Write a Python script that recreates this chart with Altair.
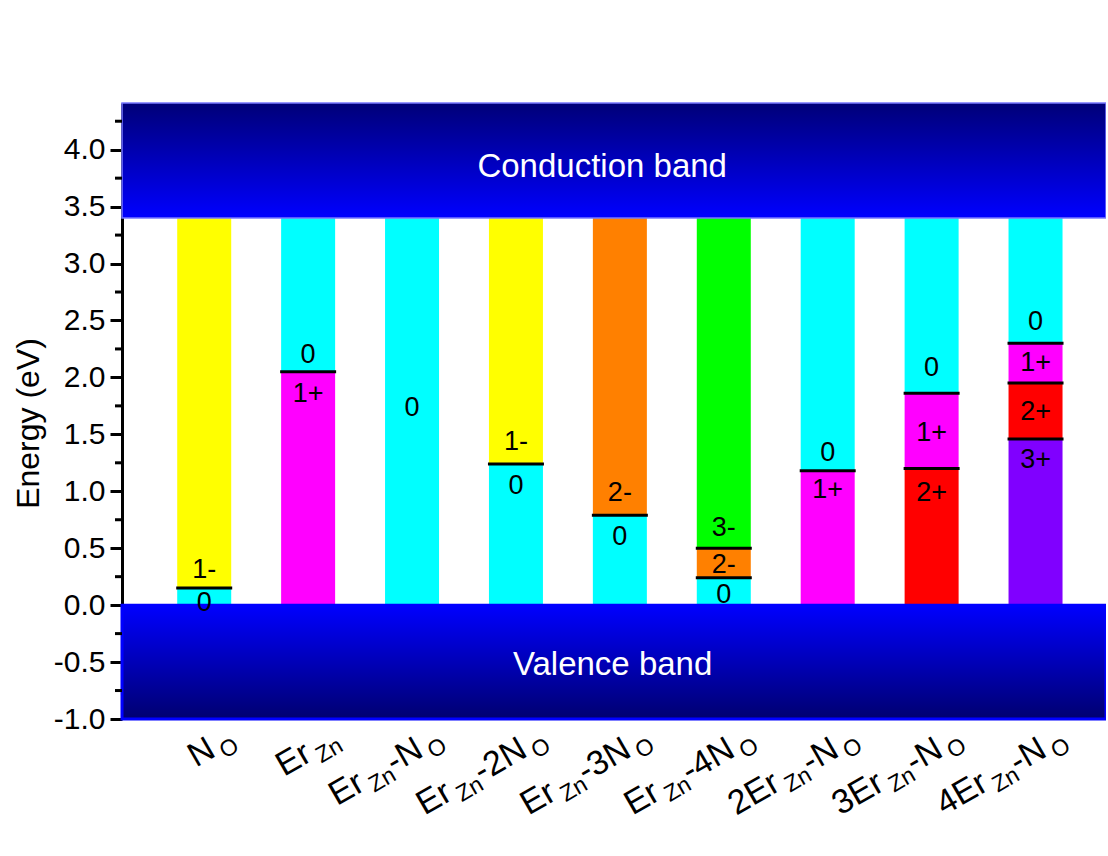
import altair as alt
import pandas as pd

FONT = "Liberation Sans"

# ---- defect configurations (x positions 1..9) ----
positions = [1, 2, 3, 4, 5, 6, 7, 8, 9]
# label pieces: (text, is_subscript)
label_parts = [
    [("N", 0), ("O", 1)],
    [("Er", 0), ("Zn", 1)],
    [("Er", 0), ("Zn", 1), ("-N", 0), ("O", 1)],
    [("Er", 0), ("Zn", 1), ("-2N", 0), ("O", 1)],
    [("Er", 0), ("Zn", 1), ("-3N", 0), ("O", 1)],
    [("Er", 0), ("Zn", 1), ("-4N", 0), ("O", 1)],
    [("2Er", 0), ("Zn", 1), ("-N", 0), ("O", 1)],
    [("3Er", 0), ("Zn", 1), ("-N", 0), ("O", 1)],
    [("4Er", 0), ("Zn", 1), ("-N", 0), ("O", 1)],
]

# ---- energy ranges ----
E_MIN, E_MAX = -1.0, 4.41
GAP = 3.4  # ZnO band gap (eV)
X_MIN, X_MAX = 0.257, 9.63

# ---- charge-state regions of each defect within the gap ----
seg_pos = [1, 1, 2, 2, 3, 4, 4, 5, 5, 6, 6, 6, 7, 7, 8, 8, 8, 9, 9, 9, 9]
seg_lo = [0.0, 0.15, 0.0, 2.05, 0.0, 0.0, 1.24, 0.0, 0.79, 0.0, 0.24, 0.50,
          0.0, 1.18, 0.0, 1.20, 1.86, 0.0, 1.46, 1.95, 2.30]
seg_hi = [0.15, GAP, 2.05, GAP, GAP, 1.24, GAP, 0.79, GAP, 0.24, 0.50, GAP,
          1.18, GAP, 1.20, 1.86, GAP, 1.46, 1.95, 2.30, GAP]
seg_color = ["#00FFFF", "#FFFF00", "#FF00FF", "#00FFFF", "#00FFFF", "#00FFFF",
             "#FFFF00", "#00FFFF", "#FF8000", "#00FFFF", "#FF8000", "#00FF00",
             "#FF00FF", "#00FFFF", "#FF0000", "#FF00FF", "#00FFFF", "#8000FF",
             "#FF0000", "#FF00FF", "#00FFFF"]

# ---- thermodynamic transition levels ----
lvl_pos = [1, 2, 4, 5, 6, 6, 7, 8, 8, 9, 9, 9]
lvl_e = [0.15, 2.05, 1.24, 0.79, 0.24, 0.50, 1.18, 1.20, 1.86, 1.46, 1.95, 2.30]

# ---- charge-state labels ----
chg_pos = [1, 1, 2, 2, 3, 4, 4, 5, 5, 6, 6, 6, 7, 7, 8, 8, 8, 9, 9, 9, 9]
chg_e = [0.31, 0.02, 2.20, 1.855, 1.73, 1.43, 1.046, 0.985, 0.60, 0.677, 0.352,
         0.088, 1.34, 1.01, 2.08, 1.51, 0.985, 2.49, 2.13, 1.70, 1.275]
chg_text = ["1-", "0", "0", "1+", "0", "1-", "0", "2-", "0", "3-", "2-", "0",
            "0", "1+", "0", "1+", "2+", "0", "1+", "2+", "3+"]

# ---- bands ----
band_name = ["Conduction band", "Valence band"]
band_lo = [GAP, E_MIN]
band_hi = [E_MAX, 0.0]
band_text_x = [4.83, 4.93]
band_text_e = [3.763, -0.615]

# ---- y-axis ticks ----
major_vals = [-1.0, -0.5, 0.0, 0.5, 1.0, 1.5, 2.0, 2.5, 3.0, 3.5, 4.0]
minor_vals = [-0.75, -0.25, 0.25, 0.75, 1.25, 1.75, 2.25, 2.75, 3.25, 3.75, 4.25]

W, H = 984, 616
PAD = {"left": 122, "top": 103, "right": 0, "bottom": 130}

xs = alt.Scale(domain=[X_MIN, X_MAX], nice=False, zero=False)
ys = alt.Scale(domain=[E_MIN, E_MAX], nice=False, zero=False)

# gradient-filled bands
cb_grad = alt.Gradient(gradient="linear", x1=0, x2=0, y1=0, y2=1,
                       stops=[alt.GradientStop(color="#000078", offset=0),
                              alt.GradientStop(color="#0000FF", offset=1)])
vb_grad = alt.Gradient(gradient="linear", x1=0, x2=0, y1=0, y2=1,
                       stops=[alt.GradientStop(color="#0000FF", offset=0),
                              alt.GradientStop(color="#000070", offset=1)])

band_df = pd.DataFrame({"name": band_name, "lo": band_lo, "hi": band_hi,
                        "tx": band_text_x, "te": band_text_e})

seg_df = pd.DataFrame({"pos": seg_pos, "lo": seg_lo, "hi": seg_hi,
                       "color": seg_color})
bars = alt.Chart(seg_df).mark_bar(size=54).encode(
    x=alt.X("pos:Q", scale=xs, axis=None),
    y=alt.Y("lo:Q", scale=ys, axis=alt.Axis(
        values=major_vals, orient="left", tickSize=12, tickWidth=3,
        tickColor="black", domainColor="black", domainWidth=3,
        labelFontSize=30, labelFont=FONT, labelColor="black", labelPadding=5,
        labelExpr="(datum.value < 0 ? '-' : '') + format(abs(datum.value), '.1f')",
        title="Energy (eV)", titleFont=FONT, titleFontSize=32,
        titleFontWeight="normal", titleColor="black", titlePadding=8,
        titleY=320, grid=False)),
    y2="hi:Q",
    color=alt.Color("color:N", scale=None))

cb = alt.Chart(band_df.iloc[[0]]).mark_rect(
    color=cb_grad, stroke="#7878FF", strokeWidth=1.5).encode(
    x=alt.value(0), x2=alt.value("width"),
    y=alt.Y("lo:Q", scale=ys), y2="hi:Q")

vb = alt.Chart(band_df.iloc[[1]]).mark_rect(
    color=vb_grad, stroke="#0000FF", strokeWidth=3).encode(
    x=alt.value(0), x2=alt.value("width"),
    y=alt.Y("lo:Q", scale=ys), y2="hi:Q")

# minor ticks on the energy axis
minor_ticks = alt.Chart(pd.DataFrame({"e": minor_vals})).mark_rule(
    color="black", strokeWidth=3).encode(
    x=alt.value(-7), x2=alt.value(0),
    y=alt.Y("e:Q", scale=ys))

band_text = alt.Chart(band_df).mark_text(
    font=FONT, fontSize=33, color="white", align="center",
    baseline="alphabetic").encode(
    x=alt.X("tx:Q", scale=xs),
    y=alt.Y("te:Q", scale=ys), text="name:N")

lvl_df = pd.DataFrame({"pos": lvl_pos, "e": lvl_e})
levels = alt.Chart(lvl_df).mark_tick(
    orient="horizontal", size=56, thickness=3, color="black", opacity=1).encode(
    x=alt.X("pos:Q", scale=xs),
    y=alt.Y("e:Q", scale=ys))

chg_df = pd.DataFrame({"pos": chg_pos, "e": chg_e, "t": chg_text})
charges = alt.Chart(chg_df).mark_text(
    font=FONT, fontSize=27, color="black", align="center",
    baseline="middle").encode(
    x=alt.X("pos:Q", scale=xs),
    y=alt.Y("e:Q", scale=ys), text="t:N")

# rotated x labels with subscripts, built piece by piece along the baseline
ADV = {"E": 0.667, "r": 0.333, "Z": 0.611, "n": 0.556, "-": 0.333, "N": 0.722,
       "O": 0.778, "2": 0.556, "3": 0.556, "4": 0.556}
MAIN_FS, SUB_FS = 34, 23
SUB_GAP, SUB_DROP = 5, 7
END_SHIFT = 38
ANCHOR_Y = 660

label_layers = []
for pos, parts in zip(positions, label_parts):
    widths = []
    for txt, sub in parts:
        fs = SUB_FS if sub else MAIN_FS
        w = sum(ADV[c] for c in txt) * fs
        if sub:
            w += SUB_GAP
        widths.append(w)
    total = sum(widths)
    cum = 0.0
    for (txt, sub), w in zip(parts, widths):
        start = cum + (SUB_GAP if sub else 0)
        layer = alt.Chart(pd.DataFrame({"pos": [pos], "t": [txt]})).mark_text(
            font=FONT, fontSize=SUB_FS if sub else MAIN_FS, color="black",
            align="left", baseline="alphabetic", angle=330,
            dx=END_SHIFT - total + start, dy=SUB_DROP if sub else 0).encode(
            x=alt.X("pos:Q", scale=xs),
            y=alt.value(ANCHOR_Y), text="t:N")
        label_layers.append(layer)
        cum += w

chart = alt.layer(
    bars, levels, cb, vb, charges, band_text, minor_ticks, *label_layers
).properties(
    width=W, height=H, autosize="none", padding=PAD, background="white"
).configure_view(stroke=None)

chart.save("out.html", embed_options={"renderer": "svg", "actions": False})
